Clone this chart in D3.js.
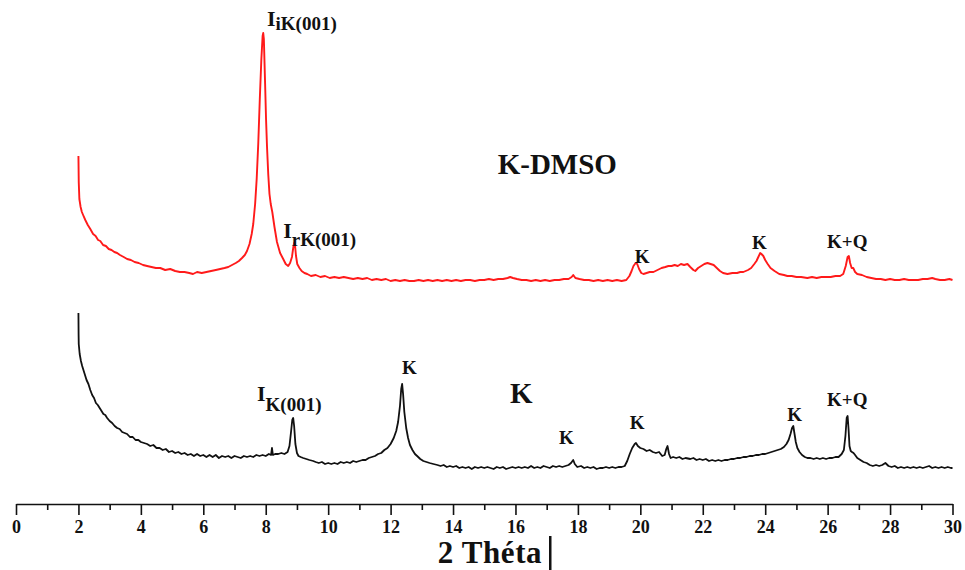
<!DOCTYPE html>
<html lang='en'>
	<head>
		<title>XRD K / K-DMSO</title>
		<script type='text/javascript' src='https://cdn.jsdelivr.net/npm/d3@7'></script>
		<style>
			body { margin: 0; background: #fff; }
			text { font-family: 'Liberation Serif', 'DejaVu Serif', serif; font-weight: bold; fill: #111; }
		</style>
	</head>
	<body>
		<script type='text/javascript'>
		// diffractograms, [2 theta, intensity a.u.]
		var kDmso = [
			[2.00,348],[2.01,322],[2.03,305],[2.07,297],[2.11,292],[2.15,289],[2.22,284],[2.30,279],[2.38,275],[2.47,270],
			[2.55,268],[2.63,264],[2.70,263],[2.79,259],[2.88,258],[2.97,255],[3.06,254],[3.15,252],[3.24,251],[3.33,249],
			[3.45,247],[3.56,245],[3.68,244],[3.80,242],[3.93,241],[4.07,239],[4.20,238],[4.34,237],[4.48,236],[4.62,236],
			[4.78,234],[4.94,235],[5.10,233],[5.25,232],[5.40,232],[5.55,231],[5.67,230],[5.80,232],[5.95,231],[6.10,232],
			[6.25,233],[6.40,234],[6.54,235],[6.68,236],[6.80,237],[6.92,239],[7.04,241],[7.14,243],[7.24,246],[7.33,249],
			[7.40,253],[7.48,260],[7.55,270],[7.60,280],[7.66,300],[7.71,325],[7.76,360],[7.81,405],[7.86,445],[7.90,468],
			[7.92,471],[7.94,465],[7.98,420],[8.01,385],[8.04,358],[8.08,330],[8.12,310],[8.16,300],[8.21,292],[8.28,277],
			[8.36,262],[8.46,251],[8.56,245],[8.64,240],[8.72,238],[8.78,241],[8.84,247],[8.88,256],[8.91,261],[8.94,258],
			[8.97,248],[9.01,240],[9.08,236],[9.15,233],[9.24,231],[9.33,230],[9.45,228],[9.60,229],[9.75,227],[9.90,228],
			[10.05,226],[10.2,227],[10.35,226],[10.5,227],[10.65,226],[10.8,225],[10.95,226],[11.1,225],[11.25,226],[11.4,224],
			[11.55,225],[11.7,224],[11.85,225],[12.0,223],[12.15,224],[12.3,223],[12.45,224],[12.6,223],[12.75,223],[12.9,224],
			[13.05,223],[13.2,224],[13.35,223],[13.5,224],[13.65,223],[13.8,224],[13.95,223],[14.1,224],[14.25,223],[14.4,224],
			[14.55,224],[14.7,223],[14.85,224],[15.0,224],[15.15,225],[15.3,224],[15.45,225],[15.6,225],[15.75,226],[15.83,227],
			[15.92,226],[16.05,225],[16.2,224],[16.35,224],[16.5,223],[16.65,224],[16.8,223],[16.95,224],[17.1,223],[17.25,224],
			[17.4,224],[17.55,225],[17.7,225],[17.8,227],[17.85,229],[17.92,226],[18.05,225],[18.2,224],[18.35,224],[18.5,223],
			[18.65,224],[18.8,223],[18.95,224],[19.1,223],[19.25,224],[19.4,223],[19.55,224],[19.65,228],[19.72,233],[19.78,238],
			[19.85,241],[19.9,240],[19.96,235],[20.03,231],[20.1,230],[20.2,231],[20.3,232],[20.42,232],[20.55,234],[20.68,236],
			[20.8,237],[20.9,238],[21.0,238],[21.1,239],[21.2,238],[21.3,240],[21.4,239],[21.51,240],[21.6,237],[21.7,234],
			[21.76,233],[21.85,236],[21.95,238],[22.05,240],[22.15,241],[22.25,240],[22.35,239],[22.45,236],[22.55,233],[22.65,231],
			[22.79,230],[22.95,231],[23.1,231],[23.2,232],[23.3,232],[23.45,234],[23.55,236],[23.65,240],[23.72,243],[23.78,247],
			[23.84,251],[23.88,250],[23.94,248],[24.0,244],[24.08,240],[24.17,236],[24.3,233],[24.45,230],[24.6,229],[24.71,228],
			[24.85,228],[25.0,227],[25.15,227],[25.35,226],[25.5,227],[25.65,226],[25.8,227],[25.95,227],[26.1,227],[26.25,228],
			[26.4,228],[26.5,230],[26.58,238],[26.64,247],[26.68,248],[26.72,241],[26.77,236],[26.82,236],[26.88,232],[26.95,230],
			[27.1,229],[27.25,227],[27.4,226],[27.55,225],[27.7,225],[27.85,224],[28.0,225],[28.15,224],[28.3,224],[28.45,225],
			[28.6,224],[28.75,224],[28.9,224],[29.05,225],[29.2,225],[29.35,226],[29.45,225],[29.6,224],[29.75,224],[29.9,225],[30.0,224]
		];
		var kaolinite = [
			[2.00,191],[2.005,170],[2.01,160],[2.04,150],[2.08,143],[2.12,138],[2.16,134],[2.2,130],[2.26,124],[2.32,120],
			[2.38,114],[2.44,109],[2.5,106],[2.56,101],[2.62,99],[2.68,96],[2.74,93],[2.8,90],[2.86,89],[2.92,86],
			[3.0,83],[3.08,81],[3.16,78],[3.24,76],[3.32,75],[3.4,72],[3.48,71],[3.56,70],[3.65,67],[3.74,67],
			[3.83,64],[3.92,64],[4.0,62],[4.1,61],[4.2,60],[4.3,58],[4.4,59],[4.5,56],[4.6,56],[4.7,54],
			[4.8,55],[4.9,52],[5.0,53],[5.1,51],[5.2,52],[5.3,50],[5.4,51],[5.5,49],[5.6,50],[5.7,48],
			[5.8,50],[5.9,48],[6.0,49],[6.1,47],[6.2,49],[6.3,47],[6.4,49],[6.5,46],[6.6,48],[6.7,47],
			[6.8,48],[6.9,46],[7.0,48],[7.1,47],[7.2,46],[7.3,48],[7.4,47],[7.5,48],[7.6,47],[7.7,49],
			[7.8,48],[7.9,49],[8.0,48],[8.1,50],[8.17,49],[8.2,56],[8.23,49],[8.3,50],[8.4,50],[8.5,51],
			[8.6,50],[8.7,52],[8.76,58],[8.81,72],[8.85,84],[8.88,86],[8.91,78],[8.95,60],[9.0,51],[9.05,48],
			[9.12,47],[9.2,46],[9.3,45],[9.4,44],[9.52,43],[9.6,42],[9.7,41],[9.8,42],[9.9,40],[10.0,41],
			[10.1,40],[10.2,41],[10.3,40],[10.4,42],[10.5,41],[10.6,42],[10.7,41],[10.8,43],[10.9,42],[11.0,43],
			[11.1,44],[11.2,44],[11.3,46],[11.4,47],[11.5,48],[11.6,50],[11.7,51],[11.8,54],[11.9,56],[12.0,60],
			[12.1,66],[12.18,73],[12.24,82],[12.3,98],[12.34,115],[12.37,120],[12.4,110],[12.44,92],[12.5,76],[12.56,66],
			[12.62,59],[12.7,54],[12.78,50],[12.85,48],[12.95,45],[13.05,43],[13.15,42],[13.25,41],[13.37,40],[13.5,39],
			[13.6,38],[13.7,39],[13.8,37],[13.9,38],[14.0,37],[14.1,38],[14.2,36],[14.3,37],[14.4,36],[14.5,37],
			[14.6,35],[14.7,37],[14.8,36],[14.9,37],[15.0,36],[15.1,37],[15.2,36],[15.3,35],[15.4,37],[15.5,36],
			[15.6,37],[15.7,35],[15.8,36],[15.9,37],[16.0,36],[16.1,37],[16.2,36],[16.3,37],[16.4,36],[16.5,38],
			[16.6,36],[16.7,37],[16.8,36],[16.9,38],[17.0,37],[17.1,36],[17.2,38],[17.3,37],[17.4,38],[17.5,37],
			[17.6,38],[17.7,39],[17.78,41],[17.85,44],[17.9,40],[17.98,37],[18.1,38],[18.2,36],[18.3,37],[18.4,36],
			[18.5,37],[18.6,35],[18.7,36],[18.8,36],[18.9,37],[19.0,36],[19.1,37],[19.2,36],[19.3,37],[19.4,37],
			[19.5,38],[19.58,43],[19.66,50],[19.74,56],[19.82,60],[19.86,61],[19.92,58],[20.0,56],[20.1,55],[20.2,53],
			[20.3,54],[20.4,52],[20.5,51],[20.6,52],[20.7,48],[20.78,49],[20.83,55],[20.87,58],[20.92,50],[20.97,46],
			[21.05,47],[21.15,46],[21.25,47],[21.35,45],[21.45,46],[21.6,45],[21.7,46],[21.8,44],[21.9,45],[22.0,44],
			[22.1,45],[22.2,43],[22.3,44],[22.4,43],[22.5,44],[22.6,43],[22.7,44],[22.8,44],[22.9,45],[23.0,45],
			[23.1,46],[23.2,46],[23.3,47],[23.4,47],[23.5,48],[23.6,48],[23.7,49],[23.8,49],[23.9,50],[24.0,50],
			[24.1,51],[24.2,52],[24.3,53],[24.4,54],[24.5,55],[24.6,57],[24.68,60],[24.75,64],[24.81,70],[24.86,76],
			[24.9,78],[24.94,70],[24.98,62],[25.03,56],[25.1,52],[25.18,49],[25.27,47],[25.35,46],[25.45,46],[25.55,45],
			[25.65,46],[25.75,45],[25.85,46],[25.95,45],[26.05,46],[26.15,46],[26.25,47],[26.35,47],[26.45,50],[26.52,54],
			[26.57,68],[26.61,86],[26.64,88],[26.67,75],[26.7,58],[26.74,53],[26.78,52],[26.83,51],[26.88,49],[26.95,46],
			[27.05,44],[27.15,42],[27.25,41],[27.35,39],[27.45,38],[27.55,39],[27.65,38],[27.75,39],[27.85,41],[27.95,38],
			[28.05,37],[28.15,38],[28.25,36],[28.35,37],[28.45,36],[28.55,37],[28.65,36],[28.75,37],[28.85,36],[28.95,37],
			[29.05,36],[29.15,37],[29.25,38],[29.35,36],[29.45,37],[29.55,36],[29.65,37],[29.75,36],[29.85,37],[29.95,36],[30.0,36]
		];

		var majorTicks = [0,2,4,6,8,10,12,14,16,18,20,22,24,26,28,30];
		var minorTicks = [1,3,5,7,9,11,13,15,17,19,21,23,25,27,29];

		// peak labels: [text, subscript, 2theta, intensity]
		var dmsoLabels = [['I','iK(001)',8.04,478],['I','rK(001)',8.56,266],['K','',20.06,241],['K','',23.81,255],['K+Q','',26.63,256]];
		var kLabels = [['I','K(001)',7.72,103],['K','',12.6,130],['K','',17.63,60],['K','',19.9,75],['K','',24.94,83],['K+Q','',26.63,98]];
		var seriesNames = [['K-DMSO',17.34,330],['K',16.19,101]];
		var xTitle = '2 Théta';

		var width = 965, height = 570;
		var svg = d3.select('body').append('svg').attr('width', width).attr('height', height);

		var x = d3.scaleLinear().domain([0,30]).range([16,952.5]);
		var y = d3.scaleLinear().domain([0,500]).range([504,4]);

		var line = d3.line().x(d => x(d[0])).y(d => y(d[1]));

		svg.append('path').datum(kDmso)
			.attr('d', line).attr('fill','none').attr('stroke','#ff1a1a').attr('stroke-width',1.9).attr('stroke-linejoin','round');
		svg.append('path').datum(kaolinite)
			.attr('d', line).attr('fill','none').attr('stroke','#111').attr('stroke-width',1.8).attr('stroke-linejoin','round');

		// x axis
		var axisY = y(0);
		svg.append('g')
			.attr('transform','translate(0,'+axisY+')')
			.call(d3.axisBottom(x).tickValues(minorTicks).tickSize(6).tickFormat('').tickSizeOuter(0))
			.call(g => g.select('.domain').remove());
		var ax = svg.append('g')
			.attr('transform','translate(0,'+axisY+')')
			.call(d3.axisBottom(x).tickValues(majorTicks).tickSize(11).tickPadding(5).tickSizeOuter(0));
		svg.selectAll('.tick line, .domain').attr('stroke','#111').attr('stroke-width',1.6);
		ax.selectAll('text').attr('font-family','Liberation Serif').attr('font-weight','bold').attr('font-size',18).attr('fill','#111');

		svg.append('text').attr('x', 490).attr('y', 563).attr('text-anchor','middle')
			.attr('font-size',31).attr('letter-spacing',0.6).text(xTitle);
		// cursor bar left in the source image
		svg.append('rect').attr('x',549).attr('y',536).attr('width',2.5).attr('height',34).attr('fill','#111');

		// series names
		svg.selectAll('.sname').data(seriesNames).enter().append('text')
			.attr('x', d => x(d[1])).attr('y', d => y(d[2]))
			.attr('text-anchor','middle').attr('font-size',29).text(d => d[0]);

		function drawLabels(labels, subDy) {
			labels.forEach(function(d, i) {
				if (d[1]) {
					var t = svg.append('text').attr('x', x(d[2])).attr('y', y(d[3]));
					t.append('tspan').attr('font-size',22).text(d[0]);
					t.append('tspan').attr('font-size',19).attr('dy', subDy[i]).text(d[1]);
				} else {
					svg.append('text').attr('x', x(d[2])).attr('y', y(d[3]))
						.attr('text-anchor','middle').attr('font-size',19).text(d[0]);
				}
			});
		}
		drawLabels(dmsoLabels, [4, 8]);
		drawLabels(kLabels, [10]);
		</script>
	</body>
</html>
